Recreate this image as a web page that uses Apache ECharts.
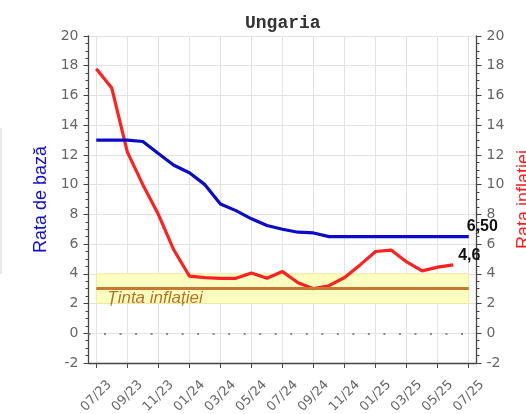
<!DOCTYPE html>
<html>
<head>
<meta charset="utf-8">
<script src="https://cdn.jsdelivr.net/npm/echarts@6/dist/echarts.min.js"></script>
<style>
html, body { margin: 0; padding: 0; background: #fff; }
#chart { width: 526px; height: 414px; }
</style>
</head>
<body>
<div id="chart"></div>
<script>
// luni (MM/YY)
var months = ['07/23', '08/23', '09/23', '10/23', '11/23', '12/23',
              '01/24', '02/24', '03/24', '04/24', '05/24', '06/24',
              '07/24', '08/24', '09/24', '10/24', '11/24', '12/24',
              '01/25', '02/25', '03/25', '04/25', '05/25', '06/25', '07/25'];

// rata de baza (%)
var baseRate = [13, 13, 13, 12.9, 12.1, 11.3,
                10.8, 10, 8.7, 8.25, 7.7, 7.25,
                7, 6.8, 6.75, 6.5, 6.5, 6.5,
                6.5, 6.5, 6.5, 6.5, 6.5, 6.5, 6.5];

// rata inflatiei (%)
var inflation = [17.8, 16.5, 12.2, 10.0, 8.0, 5.6,
                 3.85, 3.75, 3.7, 3.7, 4.05, 3.7,
                 4.15, 3.4, 3.0, 3.2, 3.75, 4.6,
                 5.5, 5.6, 4.8, 4.2, 4.45, 4.6, null];

// tinta inflatiei: 3% +/- 1
var targetBand = [2, 4];
var targetValue = 3;

var yMin = -2, yMax = 20, yStep = 2;

function yAxisCfg(pos, name, color) {
    return {
        type: 'value',
        position: pos,
        min: yMin,
        max: yMax,
        interval: yStep,
        name: name,
        nameLocation: 'middle',
        nameRotate: 90,
        nameGap: 38,
        nameTextStyle: { color: color, fontSize: 18, fontFamily: 'Liberation Sans' },
        axisLine: { show: true, onZero: false, lineStyle: { color: '#444', width: 1.3 } },
        axisTick: { show: true, length: 5, lineStyle: { color: '#444' } },
        minorTick: { show: true, splitNumber: 4, length: 3, lineStyle: { color: '#444' } },
        axisLabel: { color: '#666', fontSize: 14, fontFamily: 'DejaVu Sans', margin: 10 },
        splitLine: { show: pos === 'left', lineStyle: { color: '#e3e3e3', width: 1 } }
    };
}

var chart = echarts.init(document.getElementById('chart'));
chart.setOption({
    animation: false,
    title: {
        text: 'Ungaria',
        left: 240,
        top: 9,
        textStyle: { fontFamily: 'Liberation Mono', fontWeight: 'bold', fontSize: 18, color: '#333' }
    },
    grid: { left: 88.5, right: 49.5, top: 36, bottom: 51, outerBoundsMode: 'none' },
    xAxis: {
        type: 'category',
        data: months,
        boundaryGap: true,
        axisLine: { onZero: false, lineStyle: { color: '#444', width: 1.3 } },
        axisTick: { show: true, interval: 1, alignWithLabel: true, length: 5, lineStyle: { color: '#444' } },
        axisLabel: {
            interval: 1, rotate: 45, align: 'center', verticalAlign: 'middle',
            margin: 33, color: '#666', fontSize: 13, fontFamily: 'DejaVu Sans'
        },
        splitLine: { show: true, interval: 1, alignWithLabel: true, lineStyle: { color: '#e3e3e3' } }
    },
    yAxis: [
        yAxisCfg('left', 'Rata de bază', '#1010d0'),
        yAxisCfg('right', 'Rata inflației', '#ff2020')
    ],
    graphic: [{
        type: 'line', shape: { x1: 1, y1: 128, x2: 1, y2: 274 },
        style: { stroke: '#d6d6d6', lineWidth: 1 }
    }],
    series: [
        {
            name: 'Rata inflației',
            type: 'line',
            yAxisIndex: 1,
            data: inflation,
            symbol: 'none',
            z: 4,
            lineStyle: { color: '#ff2020', width: 3.2 },
            endLabel: {
                show: true,
                formatter: function (p) { return p.value.toFixed(1).replace('.', ','); },
                offset: [-3, -9],
                fontSize: 16, fontWeight: 'bold', color: '#111', fontFamily: 'Liberation Sans'
            },
            markArea: {
                silent: true,
                itemStyle: { color: '#ffffc0', borderColor: '#efe8a0', borderWidth: 1 },
                data: [[{ coord: [months[0], targetBand[0]] }, { coord: [months[months.length - 1], targetBand[1]] }]]
            },
            markLine: {
                silent: true,
                symbol: 'none',
                data: [
                    [{ coord: [months[0], targetValue],
                       lineStyle: { color: '#c47a34', width: 3, type: 'solid' },
                       label: {
                           show: true, formatter: 'Ținta inflației', position: 'insideStartBottom',
                           distance: [11, 1],
                           color: '#b8702c', fontStyle: 'italic', fontSize: 17, fontFamily: 'Liberation Sans'
                       } },
                     { coord: [months[months.length - 1], targetValue] }],
                    { yAxis: 0,
                      lineStyle: { color: '#888', width: 2, type: [2, 13.52] },
                      label: { show: false } }
                ]
            }
        },
        {
            name: 'Rata de bază',
            type: 'line',
            yAxisIndex: 0,
            data: baseRate,
            symbol: 'none',
            z: 5,
            lineStyle: { color: '#0a0ac8', width: 3.2 },
            endLabel: {
                show: true,
                formatter: function (p) { return p.value.toFixed(2).replace('.', ','); },
                offset: [-10, -10],
                fontSize: 16, fontWeight: 'bold', color: '#111', fontFamily: 'Liberation Sans'
            }
        }
    ]
});
</script>
</body>
</html>
